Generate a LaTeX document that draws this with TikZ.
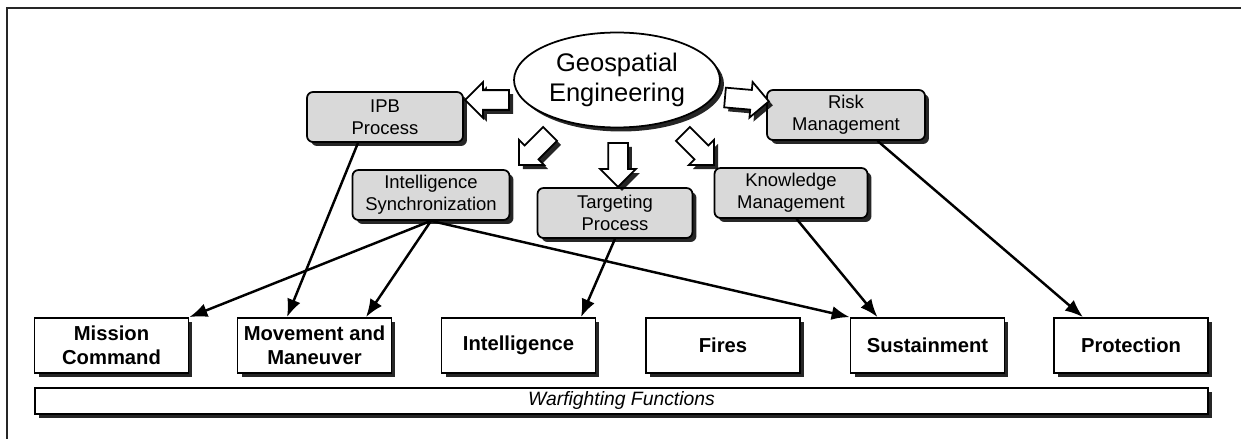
\documentclass[tikz,border=0pt]{standalone}
\usepackage{fontspec}
\setmainfont{Liberation Sans}
\usetikzlibrary{shapes.geometric,shapes.arrows,shadows,arrows.meta}

\begin{document}
\begin{tikzpicture}[x=0.02cm,y=-0.02cm]

      \tikzset{boxshadow/.style={drop shadow={shadow xshift=0.08cm, shadow yshift=-0.08cm, fill=black, opacity=0.85}},
        process/.style={draw, line width=1pt, rounded corners=0.12cm, fill=gray!30, align=center, minimum width=3.1cm, minimum height=1cm, inner sep=0pt, font=\fontsize{10.5}{12.5}\selectfont, boxshadow},
        function/.style={draw, line width=1pt, fill=white, align=center, minimum width=3.08cm, minimum height=1.1cm, inner sep=0pt, font=\fontsize{11.5}{13.5}\selectfont\bfseries, boxshadow},
        fat/.style={single arrow, draw, line width=1pt, fill=white, minimum height=0.88cm, inner xsep=0pt, inner ysep=0.18cm, single arrow head extend=0.16cm, boxshadow},
        link/.style={draw, line width=1.4pt, -{Latex[length=0.36cm, width=0.28cm]}}}

      \useasboundingbox (0,0) rectangle (1241,439);
      \draw[line width=1.2pt, black!85] (7,439) |- (1241,8);

%% Centre
      	\node[ellipse, draw, line width=1pt, fill=white, minimum width=4.12cm, minimum height=1.9cm, inner sep=0pt, align=center, font=\fontsize{14.5}{17.5}\selectfont, boxshadow] (geo) at (617,80) {Geospatial\\Engineering};
%% Processes
      	\node[process, minimum width=3.12cm] (ipb) at (385,117) {IPB\\Process};
      	\node[process, minimum width=3.16cm] (risk) at (846,115) {Risk\\Management};
      	\node[process, minimum width=3.14cm] (intsync) at (431,195) {Intelligence\\Synchronization};
      	\node[process] (targeting) at (615,213) {Targeting\\Process};
      	\node[process, minimum width=3.06cm] (knowledge) at (791,193) {Knowledge\\Management};
%% Block arrows
      	\node[fat, rotate=180] (toipb) at (492,100) {};
      	\node[fat, rotate=-5] (torisk) at (742,99) {};
      	\node[fat, rotate=225] (tointsync) at (538,146) {};
      	\node[fat, rotate=270] (totargeting) at (618,160) {};
      	\node[fat, rotate=-45] (toknowledge) at (695,146) {};
%% Warfighting functions
      	\node[function] (mission) at (111.5,345.5) {Mission\\Command};
      	\node[function] (movement) at (314.5,345.5) {Movement and\\Maneuver};
      	\node[function] (intel) at (518.5,345.5) {Intelligence};
      	\node[function] (fires) at (723,345.5) {Fires};
      	\node[function] (sustain) at (927.5,345.5) {Sustainment};
      	\node[function] (protect) at (1131,345.5) {Protection};
      	\node[draw, line width=1pt, fill=white, minimum width=23.46cm, minimum height=0.52cm, inner sep=0pt, font=\fontsize{11}{13}\selectfont\itshape, boxshadow] (wff) at (621.5,401) {Warfighting Functions};
%Edges
		\path ([xshift=-0.54cm]ipb.south) edge[link] ([xshift=-0.55cm]movement.north);
		\path (intsync.south) edge[link] (mission.north east);
		\path (intsync.south) edge[link] ([xshift=1.03cm]movement.north);
		\path (intsync.south) edge[link] (sustain.north west);
		\path (targeting.south) edge[link] ([xshift=1.25cm]intel.north);
		\path ([xshift=0.11cm]knowledge.south) edge[link] ([xshift=-1cm]sustain.north);
		\path ([xshift=0.63cm]risk.south) edge[link] ([xshift=-0.96cm]protect.north);

	\end{tikzpicture}
\end{document}
